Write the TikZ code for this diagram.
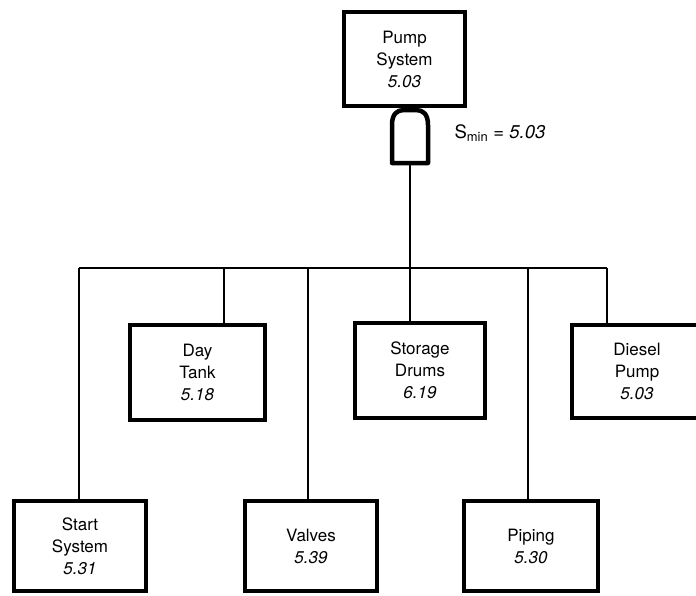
\documentclass[tikz,border=0pt]{standalone}
\usepackage{fontspec}
\setmainfont{TeX Gyre Heros}
\begin{document}
\begin{tikzpicture}[x=1pt,y=-1pt,
  block/.style={draw, line width=4.5pt, minimum width=132pt, minimum height=93pt,
    inner sep=0pt, align=center, font=\fontsize{17}{22}\selectfont},
  link/.style={line width=1.8pt},
  gatepath/.style={line width=4.5pt, line join=round}]
\useasboundingbox (0,0) rectangle (696,595);

% top event
\node[block, minimum width=121pt, minimum height=94pt] (pump) at (404.5,59)
  {Pump\\System\\\itshape 5.03};

% AND gate below the top event
\draw[gatepath] (392,163) -- (392,125)
  .. controls (392,114) and (397,110) .. (404,110) -- (416,110)
  .. controls (423,110) and (428,114) .. (428,125) -- (428,163) -- cycle;
\coordinate (gatebot) at (410,163);
\node[anchor=west, font=\fontsize{18.5}{22}\selectfont] (smin) at (451,133)
  {S\textsubscript{min} = \textit{5.03}};

% basic events
\node[block, minimum width=135pt, minimum height=95pt] (day) at (197.5,372.5)
  {Day\\Tank\\\itshape 5.18};
\node[block, minimum width=130pt, minimum height=95pt] (storage) at (420,370.5)
  {Storage\\Drums\\\itshape 6.19};
\node[block, minimum width=130pt, minimum height=93pt] (diesel) at (637,371.5)
  {Diesel\\Pump\\\itshape 5.03};
\node[block, minimum width=132pt, minimum height=90pt] (start) at (80,546)
  {Start\\System\\\itshape 5.31};
\node[block, minimum width=132pt, minimum height=90pt] (valves) at (311,546)
  {Valves\\\itshape 5.39};
\node[block, minimum width=134pt, minimum height=90pt] (piping) at (531,546)
  {Piping\\\itshape 5.30};

% bus from the gate to the inputs
\coordinate (busL) at (79,268);
\coordinate (busR) at (607,268);
\draw[link] (gatebot) -- (gatebot |- busL);
\draw[link] (busL) -- (busR);
\draw[link] (busL) -- (busL |- start.north);
\draw[link] (224,268) -- (224,268 |- day.north);
\draw[link] (308,268) -- (308,268 |- valves.north);
\draw[link] (gatebot |- busL) -- (gatebot |- storage.north);
\draw[link] (528,268) -- (528,268 |- piping.north);
\draw[link] (busR) -- (busR |- diesel.north);
\end{tikzpicture}
\end{document}
